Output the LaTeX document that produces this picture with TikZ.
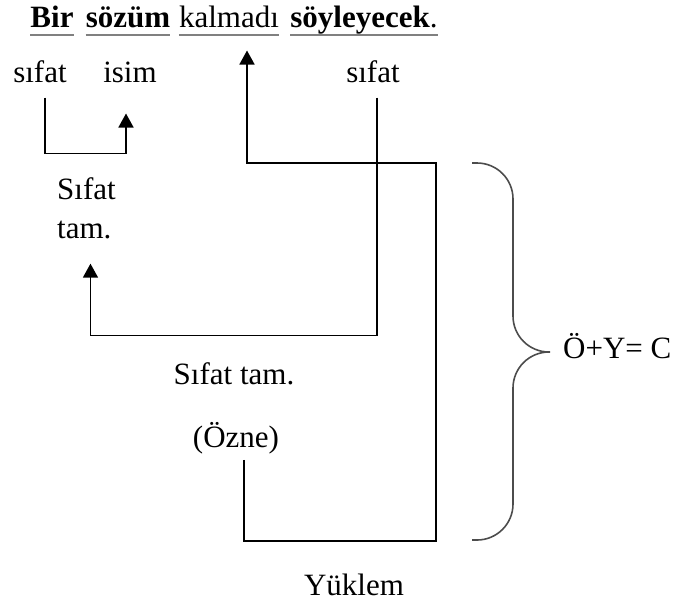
\documentclass[tikz,border=0pt]{standalone}
\usepackage{fontspec}
\setmainfont{Liberation Serif}
\usetikzlibrary{arrows.meta}

\begin{document}
\begin{tikzpicture}[x=1pt, y=-1pt,
    font=\fontsize{31}{39}\selectfont,
    word/.style={inner sep=0pt, anchor=base},
    conn/.style={line width=1.6pt, -{Triangle[width=15pt,length=14pt]}},
    uline/.style={line width=2.6pt, black!50},
    curly/.style={line width=1.6pt, black!70, rounded corners=36pt}]
    \useasboundingbox (0,0) rectangle (682,606);
    \path (52,27) node[word](Bir){\bfseries Bir}
        (128,27) node[word](Soz){\bfseries sözüm}
        (229,27) node[word](Kal){kalmadı}
        (364,27) node[word](Soy){{\bfseries söyleyecek}.}
        (40,82) node[word](S1){sıfat}
        (130,82) node[word](Isim){isim}
        (373,82) node[word](S2){sıfat}
        (57,177) node[word, anchor=north west, align=left](ST1){Sıfat\\tam.}
        (234,384) node[word](ST2){Sıfat tam.}
        (236,447) node[word](Ozne){(Özne)}
        (354,595) node[word](Yuk){Yüklem}
        (563,358) node[word, anchor=base west](OYC){Ö+Y= C};
    \draw[uline] ([yshift=-8pt]Bir.base west) -- ([yshift=-8pt]Bir.base east)
        ([yshift=-8pt]Soz.base west) -- ([yshift=-8pt]Soz.base east)
        ([yshift=-8pt]Kal.base west) -- ([yshift=-8pt]Kal.base east)
        ([yshift=-8pt]Soy.base west) -- ([yshift=-8pt]Soy.base east);
    \draw[conn] ([xshift=5pt,yshift=-15pt]S1.south) -- ++(0,56) -| ([xshift=-4pt,yshift=-31pt]Isim.south);
    \draw[conn] ([xshift=4pt,yshift=-15pt]S2.south) -- ++(0,238) -| ([xshift=4pt,yshift=-25pt]ST1.south);
    \draw[conn] ([xshift=8pt,yshift=-6pt]Ozne.south) -- ++(0,81) -- ++(192,0) -- ++(0,-378)
        -| ([xshift=18pt,yshift=-23pt]Kal.south);
    \draw[curly] (472,163) -- (513,163) -- (513,352) -- (550,352)
        (550,352) -- (513,352) -- (513,540) -- (472,540);
\end{tikzpicture}
\end{document}
